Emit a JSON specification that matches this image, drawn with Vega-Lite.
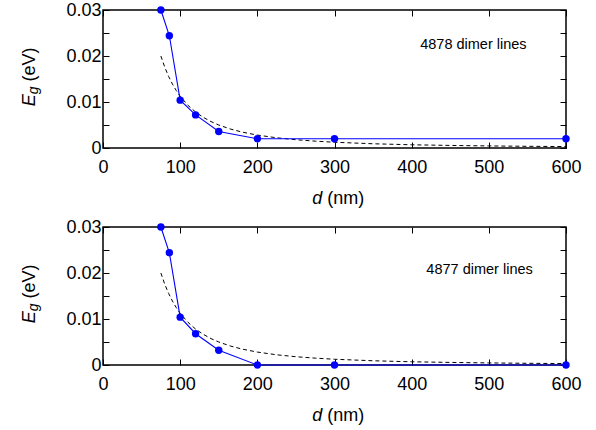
{
  "$schema": "https://vega.github.io/schema/vega-lite/v6.json",
  "background": "white",
  "padding": {"left": 20, "top": 0, "right": 17, "bottom": 5},
  "spacing": 8,
  "config": {
    "font": "Liberation Sans",
    "view": {"stroke": "black", "strokeWidth": 1.5},
    "axis": {
      "grid": false,
      "domain": false,
      "labelFlush": false,
      "tickColor": "black",
      "tickWidth": 1,
      "tickSize": -6,
      "labelFont": "Liberation Sans",
      "labelFontSize": 18,
      "labelColor": "black",
      "titleFont": "Liberation Sans",
      "titleFontSize": 18,
      "titleFontWeight": "normal",
      "titleColor": "black"
    }
  },
  "datasets": {
    "fit": [
      {"d": 75, "eg": 0.02},
      {"d": 80, "eg": 0.01758},
      {"d": 85, "eg": 0.01557},
      {"d": 90, "eg": 0.01389},
      {"d": 95, "eg": 0.01247},
      {"d": 100, "eg": 0.01125},
      {"d": 110, "eg": 0.0093},
      {"d": 120, "eg": 0.00781},
      {"d": 130, "eg": 0.00666},
      {"d": 140, "eg": 0.00574},
      {"d": 150, "eg": 0.005},
      {"d": 165, "eg": 0.00413},
      {"d": 180, "eg": 0.00347},
      {"d": 200, "eg": 0.00281},
      {"d": 225, "eg": 0.00222},
      {"d": 250, "eg": 0.0018},
      {"d": 275, "eg": 0.00149},
      {"d": 300, "eg": 0.00125},
      {"d": 350, "eg": 0.00092},
      {"d": 400, "eg": 0.0007},
      {"d": 450, "eg": 0.00056},
      {"d": 500, "eg": 0.00045},
      {"d": 550, "eg": 0.00037},
      {"d": 600, "eg": 0.00031}
    ],
    "lines4878": [
      {"d": 75, "eg": 0.03},
      {"d": 86, "eg": 0.0244},
      {"d": 100, "eg": 0.0104},
      {"d": 120, "eg": 0.0072},
      {"d": 150, "eg": 0.0036},
      {"d": 200, "eg": 0.002},
      {"d": 300, "eg": 0.002},
      {"d": 600, "eg": 0.002}
    ],
    "lines4877": [
      {"d": 75, "eg": 0.03},
      {"d": 86, "eg": 0.0244},
      {"d": 100, "eg": 0.0104},
      {"d": 120, "eg": 0.0068},
      {"d": 150, "eg": 0.0032},
      {"d": 200, "eg": 0},
      {"d": 300, "eg": 0},
      {"d": 600, "eg": 0}
    ],
    "note4878": [{"d": 480, "eg": 0.0223, "label": "4878 dimer lines"}],
    "note4877": [{"d": 488, "eg": 0.0206, "label": "4877 dimer lines"}]
  },
  "vconcat": [
    {
      "width": 463,
      "height": 138,
      "layer": [
        {
          "data": {"name": "fit"},
          "mark": {"type": "line", "color": "black", "strokeWidth": 1, "strokeDash": [4, 3]},
          "encoding": {
            "x": {"field": "d", "type": "quantitative", "scale": {"domain": [0, 600], "nice": false},
              "axis": {"orient": "bottom", "values": [0, 100, 200, 300, 400, 500, 600], "format": "d", "labelPadding": 16,
                "title": "(nm)", "titleX": 223.8, "titleY": 55.3, "titleAngle": 0, "titleAlign": "left", "titleBaseline": "alphabetic"}},
            "y": {"field": "eg", "type": "quantitative", "scale": {"domain": [0, 0.03], "nice": false},
              "axis": {"orient": "left", "values": [0, 0.005, 0.01, 0.015, 0.02, 0.025, 0.03],
                "labelExpr": "datum.value == 0 ? '0' : (round(datum.value * 1000) % 10 == 0 ? format(datum.value, '.2f') : '')", "labelPadding": 8,
                "title": "(eV)", "titleX": -68.2, "titleY": 70.9, "titleAngle": 270, "titleAlign": "left", "titleBaseline": "alphabetic"}}
          }
        },
        {
          "data": {"name": "lines4878"},
          "mark": {"type": "line", "color": "#0000ff", "strokeWidth": 1.1},
          "encoding": {
            "x": {"field": "d", "type": "quantitative", "axis": {"orient": "top", "values": [0, 100, 200, 300, 400, 500, 600], "labels": false, "title": null}},
            "y": {"field": "eg", "type": "quantitative", "axis": {"orient": "right", "values": [0, 0.005, 0.01, 0.015, 0.02, 0.025, 0.03], "labels": false, "title": null}}
          }
        },
        {
          "data": {"name": "lines4878"},
          "mark": {"type": "point", "filled": true, "size": 55, "color": "#0000ff", "opacity": 1},
          "encoding": {
            "x": {"field": "d", "type": "quantitative",
              "axis": {"orient": "bottom", "ticks": false, "labels": false, "title": "d", "titleFontStyle": "italic", "titleX": 208.8, "titleY": 55.3, "titleAngle": 0, "titleAlign": "left", "titleBaseline": "alphabetic"}},
            "y": {"field": "eg", "type": "quantitative",
              "axis": {"orient": "left", "ticks": false, "labels": false, "title": "g", "titleFontStyle": "italic", "titleFontSize": 14, "titleX": -65.7, "titleY": 83.7, "titleAngle": 270, "titleAlign": "left", "titleBaseline": "alphabetic"}}
          }
        },
        {
          "data": {"name": "note4878"},
          "mark": {"type": "text", "fontSize": 14.5, "color": "black"},
          "encoding": {
            "x": {"field": "d", "type": "quantitative", "axis": null},
            "y": {"field": "eg", "type": "quantitative",
              "axis": {"orient": "left", "ticks": false, "labels": false, "title": "E", "titleFontStyle": "italic", "titleX": -68.2, "titleY": 95.7, "titleAngle": 270, "titleAlign": "left", "titleBaseline": "alphabetic"}},
            "text": {"field": "label"}
          }
        }
      ],
      "resolve": {"axis": {"x": "independent", "y": "independent"}}
    },
    {
      "width": 463,
      "height": 138,
      "layer": [
        {
          "data": {"name": "fit"},
          "mark": {"type": "line", "color": "black", "strokeWidth": 1, "strokeDash": [4, 3]},
          "encoding": {
            "x": {"field": "d", "type": "quantitative", "scale": {"domain": [0, 600], "nice": false},
              "axis": {"orient": "bottom", "values": [0, 100, 200, 300, 400, 500, 600], "format": "d", "labelPadding": 16,
                "title": "(nm)", "titleX": 223.8, "titleY": 55.3, "titleAngle": 0, "titleAlign": "left", "titleBaseline": "alphabetic"}},
            "y": {"field": "eg", "type": "quantitative", "scale": {"domain": [0, 0.03], "nice": false},
              "axis": {"orient": "left", "values": [0, 0.005, 0.01, 0.015, 0.02, 0.025, 0.03],
                "labelExpr": "datum.value == 0 ? '0' : (round(datum.value * 1000) % 10 == 0 ? format(datum.value, '.2f') : '')", "labelPadding": 8,
                "title": "(eV)", "titleX": -68.2, "titleY": 70.9, "titleAngle": 270, "titleAlign": "left", "titleBaseline": "alphabetic"}}
          }
        },
        {
          "data": {"name": "lines4877"},
          "mark": {"type": "line", "color": "#0000ff", "strokeWidth": 1.1},
          "encoding": {
            "x": {"field": "d", "type": "quantitative", "axis": {"orient": "top", "values": [0, 100, 200, 300, 400, 500, 600], "labels": false, "title": null}},
            "y": {"field": "eg", "type": "quantitative", "axis": {"orient": "right", "values": [0, 0.005, 0.01, 0.015, 0.02, 0.025, 0.03], "labels": false, "title": null}}
          }
        },
        {
          "data": {"name": "lines4877"},
          "mark": {"type": "point", "filled": true, "size": 55, "color": "#0000ff", "opacity": 1},
          "encoding": {
            "x": {"field": "d", "type": "quantitative",
              "axis": {"orient": "bottom", "ticks": false, "labels": false, "title": "d", "titleFontStyle": "italic", "titleX": 208.8, "titleY": 55.3, "titleAngle": 0, "titleAlign": "left", "titleBaseline": "alphabetic"}},
            "y": {"field": "eg", "type": "quantitative",
              "axis": {"orient": "left", "ticks": false, "labels": false, "title": "g", "titleFontStyle": "italic", "titleFontSize": 14, "titleX": -65.7, "titleY": 83.7, "titleAngle": 270, "titleAlign": "left", "titleBaseline": "alphabetic"}}
          }
        },
        {
          "data": {"name": "note4877"},
          "mark": {"type": "text", "fontSize": 14.5, "color": "black"},
          "encoding": {
            "x": {"field": "d", "type": "quantitative", "axis": null},
            "y": {"field": "eg", "type": "quantitative",
              "axis": {"orient": "left", "ticks": false, "labels": false, "title": "E", "titleFontStyle": "italic", "titleX": -68.2, "titleY": 95.7, "titleAngle": 270, "titleAlign": "left", "titleBaseline": "alphabetic"}},
            "text": {"field": "label"}
          }
        }
      ],
      "resolve": {"axis": {"x": "independent", "y": "independent"}}
    }
  ]
}
